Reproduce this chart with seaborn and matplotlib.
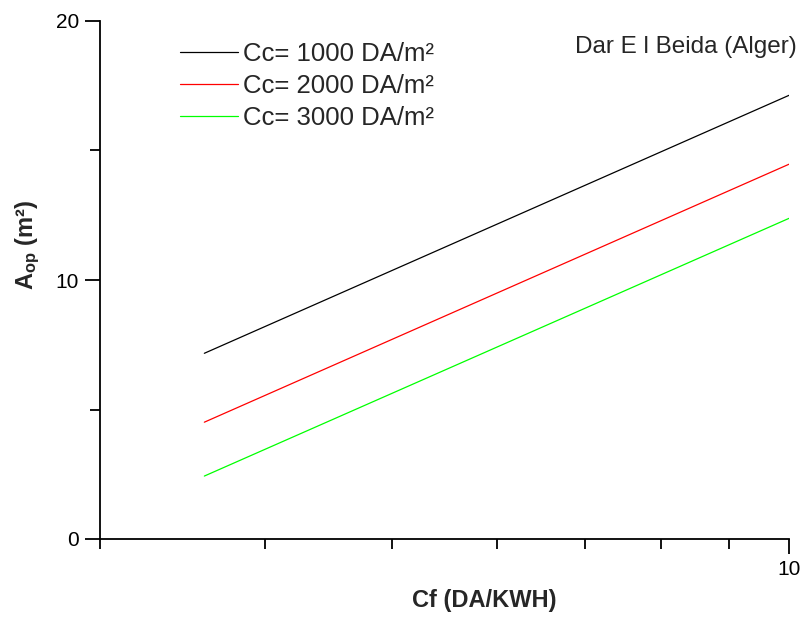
import matplotlib
matplotlib.use("Agg")
import matplotlib.pyplot as plt
import matplotlib.ticker as mticker
import seaborn as sns
import pandas as pd

sns.set_theme(style="ticks")
plt.rcParams['font.family'] = ['Liberation Sans', 'DejaVu Sans']
plt.rcParams['mathtext.fontset'] = 'custom'
plt.rcParams['mathtext.rm'] = 'Liberation Sans'
plt.rcParams['mathtext.bf'] = 'Liberation Sans:bold'

cf = [3.6, 10]
a_1000 = [7.17, 17.13]
a_2000 = [4.51, 14.47]
a_3000 = [2.43, 12.38]
labels = ["Cc= 1000 DA/m²", "Cc= 2000 DA/m²", "Cc= 3000 DA/m²"]
colors = ["black", "red", "#00ff00"]

rows = []
for lab, vals in zip(labels, [a_1000, a_2000, a_3000]):
    for x, y in zip(cf, vals):
        rows.append({"Cf": x, "A": y, "Cc": lab})
df = pd.DataFrame(rows)

fig = plt.figure(figsize=(8.05, 6.17), dpi=100)
ax = fig.add_axes([100/805, (617-539)/617, (789-100)/805, (539-21)/617])

sns.lineplot(data=df, x="Cf", y="A", hue="Cc", palette=colors, ax=ax,
             linewidth=0.9, legend=True)
ax.set_xscale('log')
ax.set_xlim(3, 10)
ax.set_ylim(0, 20)

ax.xaxis.set_major_locator(mticker.FixedLocator([10]))
ax.xaxis.set_major_formatter(mticker.FixedFormatter(["10"]))
ax.xaxis.set_minor_locator(mticker.FixedLocator([3, 4, 5, 6, 7, 8, 9]))
ax.xaxis.set_minor_formatter(mticker.NullFormatter())
ax.set_yticks([0, 10, 20])
ax.yaxis.set_minor_locator(mticker.FixedLocator([5, 15]))

ax.tick_params(axis='both', which='major', direction='out', length=11, width=1.3,
               labelsize=15, color='black', labelcolor='black', pad=4)
ax.tick_params(axis='both', which='minor', direction='out', length=7, width=1.3,
               color='black')

for s in ['top', 'right']:
    ax.spines[s].set_visible(False)
for s in ['left', 'bottom']:
    ax.spines[s].set_linewidth(1.3)
    ax.spines[s].set_color('black')

ax.set_xlabel("Cf (DA/KWH)", fontsize=17, fontweight='bold')
ax.xaxis.set_label_coords((484-100)/689, -(601-539)/518)
ax.xaxis.label.set_va('center')
ax.set_ylabel(r"$\mathbf{A_{op}}$ (m²)", fontsize=17, fontweight='bold')
ax.yaxis.set_label_coords(-(100-28)/689, (539-245)/518)
ax.yaxis.label.set_va('center')

leg = ax.legend(loc='upper left', bbox_to_anchor=((172-100)/689, (539-34)/518),
                frameon=False, fontsize=18.5, handlelength=2.25, handletextpad=0.2,
                labelspacing=0.32, borderaxespad=0, borderpad=0.3)
ax.text((797-100)/689, (539-47)/518, "Dar E l Beida (Alger)", transform=ax.transAxes,
        ha='right', va='center', fontsize=17.5)

fig.savefig("out.png", dpi=100)
